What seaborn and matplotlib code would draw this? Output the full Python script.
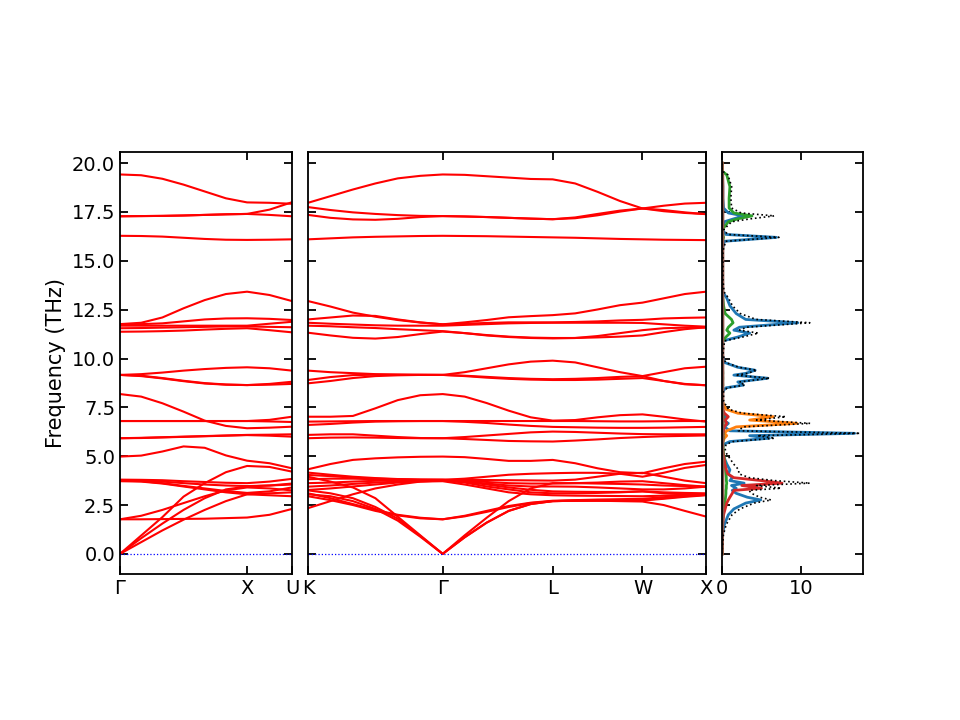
import numpy as np
import pandas as pd
import matplotlib
matplotlib.use("Agg")
import matplotlib.pyplot as plt
import seaborn as sns

# ---- k-path (fcc): segment lengths in 2pi/a and number of samples read per segment
gxu_labels = ["Γ", "X", "U"]
gxu_lengths = [1.0, np.sqrt(2) / 4]
gxu_samples = [7, 3]

kglwx_labels = ["K", "Γ", "L", "W", "X"]
kglwx_lengths = [3 * np.sqrt(2) / 4, np.sqrt(3) / 2, np.sqrt(2) / 2, 0.5]
kglwx_samples = [7, 6, 5, 4]

# ---- phonon branches (THz), Γ -> X -> U (9 samples)
gxu_bands = [
    [19.42, 19.38, 19.20, 18.90, 18.55, 18.20, 17.99, 17.97, 17.92],
    [17.28, 17.29, 17.30, 17.32, 17.35, 17.38, 17.40, 17.62, 18.00],
    [17.28, 17.29, 17.30, 17.32, 17.35, 17.38, 17.40, 17.35, 17.28],
    [16.28, 16.27, 16.24, 16.18, 16.12, 16.08, 16.07, 16.08, 16.10],
    [11.76, 11.83, 12.10, 12.57, 12.99, 13.30, 13.42, 13.25, 12.94],
    [11.76, 11.76, 11.80, 11.90, 12.00, 12.05, 12.06, 12.03, 11.97],
    [11.68, 11.68, 11.68, 11.68, 11.68, 11.68, 11.68, 11.78, 11.88],
    [11.55, 11.56, 11.58, 11.60, 11.62, 11.64, 11.64, 11.62, 11.60],
    [11.37, 11.38, 11.40, 11.43, 11.48, 11.52, 11.55, 11.45, 11.34],
    [9.16, 9.20, 9.28, 9.38, 9.46, 9.52, 9.55, 9.50, 9.38],
    [9.16, 9.10, 8.98, 8.84, 8.72, 8.66, 8.64, 8.70, 8.81],
    [9.16, 9.12, 9.00, 8.86, 8.74, 8.67, 8.64, 8.66, 8.70],
    [8.18, 8.05, 7.71, 7.28, 6.82, 6.55, 6.43, 6.46, 6.51],
    [6.80, 6.80, 6.80, 6.80, 6.80, 6.80, 6.80, 6.86, 7.02],
    [6.80, 6.80, 6.80, 6.80, 6.80, 6.80, 6.80, 6.78, 6.75],
    [5.92, 5.94, 5.97, 6.00, 6.03, 6.06, 6.09, 6.10, 6.12],
    [5.92, 5.93, 5.96, 5.99, 6.02, 6.05, 6.08, 6.05, 6.00],
    [4.98, 5.03, 5.24, 5.50, 5.43, 5.04, 4.77, 4.64, 4.38],
    [3.80, 3.79, 3.77, 3.72, 3.68, 3.64, 3.62, 3.70, 3.84],
    [3.78, 3.76, 3.70, 3.62, 3.55, 3.50, 3.47, 3.50, 3.60],
    [3.75, 3.72, 3.62, 3.48, 3.35, 3.22, 3.12, 3.20, 3.40],
    [3.72, 3.70, 3.60, 3.45, 3.30, 3.15, 3.05, 3.00, 2.95],
    [1.77, 1.95, 2.25, 2.60, 2.95, 3.25, 3.40, 3.35, 3.25],
    [1.77, 1.77, 1.78, 1.79, 1.80, 1.83, 1.86, 2.00, 2.30],
    [0.00, 0.60, 1.20, 1.75, 2.25, 2.70, 3.05, 3.10, 3.15],
    [0.00, 0.80, 1.55, 2.25, 2.85, 3.30, 3.45, 3.50, 3.55],
    [0.00, 0.94, 1.88, 2.93, 3.62, 4.18, 4.50, 4.45, 4.21],
]

# ---- K -> Γ -> L -> W -> X (19 samples)
kglwx_bands = [
    [17.97, 18.31, 18.65, 18.96, 19.22, 19.35, 19.42, 19.40, 19.33, 19.26, 19.19, 19.17, 18.96, 18.53, 18.06, 17.68, 17.54, 17.45, 17.39],
    [17.75, 17.60, 17.48, 17.40, 17.34, 17.30, 17.29, 17.27, 17.24, 17.20, 17.16, 17.13, 17.22, 17.40, 17.57, 17.68, 17.82, 17.93, 17.97],
    [17.35, 17.20, 17.12, 17.10, 17.15, 17.24, 17.29, 17.27, 17.24, 17.20, 17.16, 17.13, 17.18, 17.33, 17.52, 17.68, 17.60, 17.48, 17.39],
    [16.10, 16.15, 16.20, 16.23, 16.25, 16.27, 16.28, 16.27, 16.26, 16.24, 16.22, 16.20, 16.18, 16.15, 16.12, 16.10, 16.08, 16.07, 16.06],
    [12.94, 12.66, 12.35, 12.14, 11.97, 11.84, 11.75, 11.85, 11.97, 12.11, 12.17, 12.22, 12.31, 12.51, 12.73, 12.86, 13.08, 13.30, 13.42],
    [12.00, 12.10, 12.20, 12.18, 12.00, 11.85, 11.75, 11.78, 11.82, 11.85, 11.85, 11.85, 11.87, 11.90, 11.95, 11.98, 12.05, 12.08, 12.10],
    [11.83, 11.78, 11.74, 11.70, 11.68, 11.68, 11.68, 11.72, 11.76, 11.80, 11.82, 11.83, 11.83, 11.83, 11.83, 11.82, 11.75, 11.68, 11.63],
    [11.68, 11.65, 11.60, 11.56, 11.50, 11.45, 11.40, 11.30, 11.20, 11.12, 11.07, 11.05, 11.05, 11.08, 11.12, 11.18, 11.35, 11.50, 11.60],
    [11.32, 11.18, 11.06, 11.02, 11.10, 11.25, 11.38, 11.30, 11.18, 11.10, 11.05, 11.03, 11.05, 11.15, 11.30, 11.45, 11.55, 11.58, 11.58],
    [9.38, 9.30, 9.25, 9.20, 9.18, 9.17, 9.16, 9.30, 9.50, 9.70, 9.84, 9.89, 9.80, 9.55, 9.30, 9.10, 8.85, 8.68, 8.63],
    [8.90, 9.05, 9.15, 9.17, 9.17, 9.16, 9.16, 9.12, 9.06, 9.00, 8.96, 8.94, 8.96, 9.00, 9.06, 9.10, 9.30, 9.50, 9.58],
    [8.73, 8.85, 9.00, 9.10, 9.14, 9.16, 9.16, 9.10, 9.02, 8.96, 8.92, 8.90, 8.90, 8.92, 8.96, 9.00, 8.85, 8.70, 8.63],
    [7.02, 7.02, 7.06, 7.45, 7.87, 8.12, 8.18, 8.05, 7.72, 7.33, 6.99, 6.82, 6.85, 6.99, 7.10, 7.14, 7.02, 6.88, 6.77],
    [6.77, 6.78, 6.79, 6.80, 6.80, 6.80, 6.80, 6.80, 6.80, 6.80, 6.80, 6.80, 6.80, 6.79, 6.78, 6.78, 6.79, 6.80, 6.80],
    [6.60, 6.65, 6.72, 6.77, 6.79, 6.80, 6.80, 6.76, 6.70, 6.62, 6.55, 6.50, 6.48, 6.46, 6.45, 6.45, 6.46, 6.48, 6.50],
    [6.09, 6.12, 6.12, 6.05, 5.98, 5.93, 5.92, 5.98, 6.06, 6.14, 6.22, 6.26, 6.24, 6.20, 6.16, 6.13, 6.12, 6.12, 6.12],
    [5.92, 5.95, 5.96, 5.95, 5.93, 5.92, 5.92, 5.88, 5.83, 5.78, 5.76, 5.75, 5.80, 5.86, 5.93, 5.98, 6.02, 6.04, 6.06],
    [4.33, 4.60, 4.81, 4.89, 4.94, 4.97, 4.98, 4.95, 4.86, 4.76, 4.76, 4.81, 4.64, 4.38, 4.18, 4.13, 4.38, 4.60, 4.72],
    [4.16, 4.05, 3.95, 3.88, 3.83, 3.80, 3.79, 3.85, 3.95, 4.05, 4.10, 4.13, 4.15, 4.15, 4.10, 3.95, 4.15, 4.40, 4.55],
    [4.04, 3.98, 3.90, 3.85, 3.82, 3.80, 3.79, 3.79, 3.78, 3.77, 3.76, 3.75, 3.80, 3.95, 4.10, 4.15, 3.95, 3.75, 3.62],
    [3.82, 3.85, 3.85, 3.82, 3.80, 3.79, 3.79, 3.75, 3.68, 3.62, 3.60, 3.60, 3.62, 3.65, 3.70, 3.72, 3.62, 3.52, 3.44],
    [3.62, 3.65, 3.70, 3.74, 3.77, 3.78, 3.79, 3.70, 3.55, 3.40, 3.28, 3.20, 3.18, 3.17, 3.17, 3.20, 3.15, 3.12, 3.10],
    [3.44, 3.50, 3.58, 3.65, 3.70, 3.75, 3.76, 3.65, 3.45, 3.30, 3.15, 3.10, 3.10, 3.12, 3.15, 3.20, 3.10, 3.05, 3.02],
    [3.27, 3.35, 3.45, 3.55, 3.65, 3.70, 3.72, 3.55, 3.35, 3.15, 3.05, 3.00, 2.98, 2.97, 2.96, 2.95, 2.98, 3.02, 3.05],
    [2.34, 2.70, 3.05, 3.35, 3.55, 3.70, 3.76, 3.70, 3.60, 3.50, 3.45, 3.45, 3.44, 3.40, 3.35, 3.30, 3.30, 3.35, 3.44],
    [3.10, 2.85, 2.55, 2.25, 2.00, 1.85, 1.77, 1.95, 2.20, 2.45, 2.62, 2.72, 2.75, 2.78, 2.80, 2.82, 2.90, 3.00, 3.05],
    [2.95, 2.75, 2.50, 2.20, 1.97, 1.82, 1.77, 1.92, 2.15, 2.40, 2.60, 2.70, 2.72, 2.72, 2.70, 2.68, 2.50, 2.20, 1.91],
    [3.95, 3.70, 3.40, 2.85, 1.90, 0.95, 0.00, 0.95, 1.85, 2.70, 3.35, 3.62, 3.62, 3.60, 3.58, 3.55, 3.50, 3.47, 3.44],
    [3.05, 2.95, 2.70, 2.30, 1.70, 0.88, 0.00, 0.85, 1.60, 2.20, 2.55, 2.70, 2.72, 2.73, 2.73, 2.73, 2.82, 2.92, 3.00],
    [3.25, 3.10, 2.85, 2.40, 1.80, 0.92, 0.00, 0.85, 1.60, 2.20, 2.55, 2.70, 2.72, 2.73, 2.74, 2.75, 2.85, 2.95, 3.02],
]

# ---- projected DOS
dos_freq = [0.0, 0.5, 1.0, 1.5, 2.0, 2.3, 2.6, 2.76, 2.9, 3.1,
            3.25, 3.36, 3.5, 3.62, 3.75, 3.9, 4.1, 4.3, 4.6, 4.9,
            5.1, 5.4, 5.6, 5.75, 5.92, 6.05, 6.17, 6.3, 6.5, 6.68,
            6.85, 7.02, 7.2, 7.4, 7.8, 8.3, 8.5, 8.64, 8.8, 8.99,
            9.15, 9.24, 9.4, 9.55, 9.8, 10.2, 10.9, 11.1, 11.3, 11.45,
            11.6, 11.83, 12.0, 12.3, 12.7, 13.1, 13.4, 14.0, 15.5, 16.0,
            16.2, 16.35, 16.6, 17.0, 17.15, 17.3, 17.45, 17.7, 18.2, 18.8,
            19.4, 19.6, 20.0]
dos_blue = [0.0, 0.02, 0.08, 0.3, 0.8, 1.5, 3.0, 4.9, 3.2, 1.8,
            1.3, 1.8, 1.2, 2.8, 1.0, 1.3, 0.8, 1.0, 0.6, 0.3,
            0.15, 0.05, 0.2, 1.0, 6.0, 3.5, 16.8, 1.0, 0.3, 0.8,
            0.2, 0.5, 0.1, 0.05, 0.0, 0.05, 0.5, 2.7, 2.0, 5.8,
            1.5, 3.0, 4.2, 2.0, 0.3, 0.0, 0.1, 2.0, 3.5, 1.5,
            2.2, 9.6, 3.0, 1.8, 1.0, 0.6, 0.1, 0.0, 0.0, 0.3,
            6.9, 0.5, 0.05, 0.3, 1.5, 2.7, 0.8, 0.2, 0.1, 0.1,
            0.05, 0.0, 0.0]
dos_orange = [0, 0, 0, 0, 0, 0, 0, 0, 0, 0,
              0, 0, 0, 0, 0, 0, 0, 0, 0, 0,
              0, 0, 0.05, 0.1, 0.3, 0.6, 0.3, 0.6, 1.8, 9.5,
              3.5, 6.5, 2.0, 0.5, 0.05, 0, 0, 0, 0, 0,
              0, 0, 0, 0, 0, 0, 0, 0, 0, 0,
              0, 0, 0, 0, 0, 0, 0, 0, 0, 0,
              0, 0, 0, 0, 0, 0, 0, 0, 0, 0,
              0, 0, 0]
dos_green = [0, 0, 0, 0.05, 0.15, 0.25, 0.35, 0.4, 0.45, 0.5,
             0.5, 0.55, 0.55, 0.6, 0.55, 0.55, 0.5, 0.45, 0.4, 0.3,
             0.2, 0.15, 0.1, 0.1, 0.15, 0.15, 0.15, 0.15, 0.15, 0.15,
             0.15, 0.15, 0.1, 0.05, 0.02, 0.02, 0.05, 0.1, 0.08, 0.1,
             0.08, 0.1, 0.08, 0.05, 0.02, 0, 0.1, 0.5, 1.0, 0.6,
             0.8, 1.4, 1.2, 0.4, 0.2, 0.1, 0.05, 0, 0, 0.05,
             0.2, 0.1, 0.05, 0.8, 2.0, 3.8, 1.5, 0.9, 0.9, 1.0,
             0.6, 0.0, 0.0]
dos_red = [0, 0.01, 0.03, 0.08, 0.2, 0.4, 0.6, 0.8, 1.0, 1.3,
           1.5, 5.0, 2.5, 7.6, 5.0, 1.5, 0.7, 0.55, 0.35, 0.25,
           0.15, 0.05, 0.05, 0.1, 0.1, 0.1, 0.1, 0.2, 0.3, 0.6,
           0.4, 0.8, 0.3, 0.1, 0.02, 0, 0, 0, 0, 0,
           0, 0, 0, 0, 0, 0, 0, 0, 0, 0,
           0, 0, 0, 0, 0, 0, 0, 0, 0, 0,
           0, 0, 0, 0, 0, 0, 0, 0, 0, 0,
           0, 0, 0]
dos_brown = [0, 0.05, 0.08, 0.1, 0.12, 0.12, 0.12, 0.12, 0.12, 0.12,
             0.12, 0.12, 0.12, 0.12, 0.12, 0.12, 0.12, 0.12, 0.12, 0.12,
             0.12, 0.12, 0.12, 0.12, 0.12, 0.12, 0.12, 0.12, 0.12, 0.12,
             0.12, 0.12, 0.12, 0.12, 0.12, 0.12, 0.12, 0.12, 0.12, 0.12,
             0.12, 0.12, 0.12, 0.12, 0.12, 0.12, 0.12, 0.12, 0.12, 0.12,
             0.12, 0.12, 0.12, 0.12, 0.12, 0.12, 0.12, 0.12, 0.12, 0.12,
             0.12, 0.12, 0.12, 0.12, 0.12, 0.12, 0.12, 0.12, 0.12, 0.12,
             0.1, 0.0, 0.0]


def path_positions(lengths, samples):
    """Distance along the k-path for every sampled point."""
    pos = [0.0]
    start = 0.0
    for seg_len, n in zip(lengths, samples):
        pos.extend(start + seg_len * np.linspace(0, 1, n)[1:])
        start += seg_len
    nodes = np.concatenate([[0.0], np.cumsum(lengths)])
    return np.array(pos), nodes


def bands_frame(bands, kpos):
    rows = []
    for i, band in enumerate(bands):
        for k, f in zip(kpos, band):
            rows.append({"k": k, "freq": f, "band": i})
    return pd.DataFrame(rows)


def style_axis(ax):
    ax.tick_params(direction="in", top=True, right=True, length=6, width=1.3,
                   labelsize=14)
    for sp in ax.spines.values():
        sp.set_linewidth(1.3)
    ax.set_ylim(-1.03, 20.57)
    ax.set_xlabel("")
    ax.set_ylabel("")


def plot_bands(ax, bands, lengths, samples, labels):
    kpos, nodes = path_positions(lengths, samples)
    df = bands_frame(bands, kpos)
    sns.lineplot(data=df, x="k", y="freq", units="band", estimator=None,
                 sort=False, color="red", linewidth=1.5, ax=ax, legend=False)
    ax.axhline(0, color="blue", linestyle=":", linewidth=0.9)
    ax.set_xlim(nodes[0], nodes[-1])
    ax.set_xticks(nodes)
    ax.set_xticklabels(labels)
    style_axis(ax)


def main():
    fig = plt.figure(figsize=(9.6, 7.2), dpi=100)
    bottom = 1 - 574 / 720
    height = 422 / 720
    ax1 = fig.add_axes([120 / 960, bottom, 172 / 960, height])
    ax2 = fig.add_axes([308 / 960, bottom, 398 / 960, height])
    ax3 = fig.add_axes([722 / 960, bottom, 141 / 960, height])

    plot_bands(ax1, gxu_bands, gxu_lengths, gxu_samples, gxu_labels)
    ax1.set_yticks(np.arange(0, 20.1, 2.5))
    ax1.set_ylabel("Frequency (THz)", fontsize=15)

    plot_bands(ax2, kglwx_bands, kglwx_lengths, kglwx_samples, kglwx_labels)
    ax2.set_yticks(np.arange(0, 20.1, 2.5))
    ax2.tick_params(labelleft=False)

    partials = [(dos_blue, "C0"), (dos_orange, "C1"), (dos_green, "C2"),
                (dos_red, "C3"), (dos_brown, "C5")]
    for vals, col in partials:
        sns.lineplot(x=vals, y=dos_freq, orient="y", color=col, linewidth=2.0,
                     ax=ax3)
    total = np.sum([p[0] for p in partials], axis=0)
    sns.lineplot(x=total, y=dos_freq, orient="y", color="black",
                 linestyle=":", linewidth=1.2, ax=ax3)
    ax3.set_xlim(0, 17.85)
    ax3.set_xticks([0, 10])
    ax3.set_yticks(np.arange(0, 20.1, 2.5))
    style_axis(ax3)
    ax3.tick_params(labelleft=False)

    fig.savefig("out.png", dpi=100)


if __name__ == "__main__":
    main()
